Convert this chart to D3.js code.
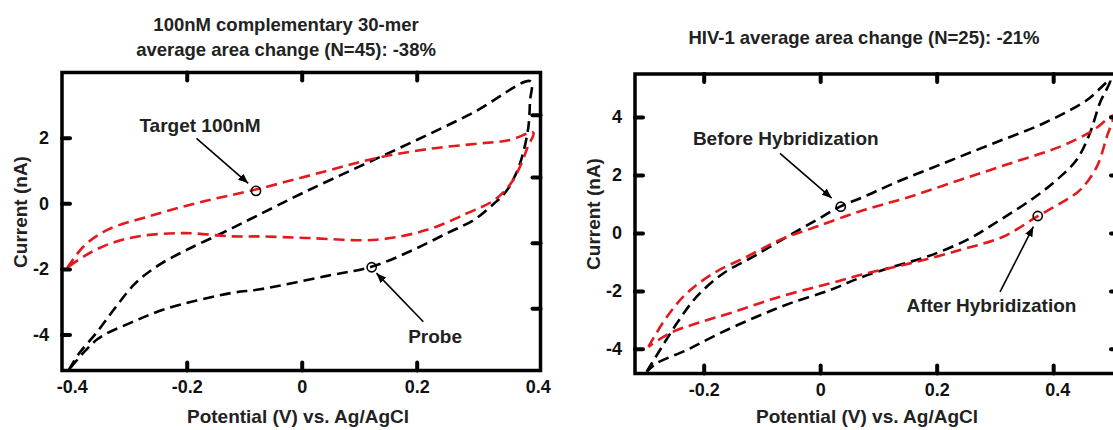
<!DOCTYPE html>
<html>
<head>
<meta charset="utf-8">
<script src="https://cdn.jsdelivr.net/npm/d3@7"></script>
<style>
  html, body { margin: 0; padding: 0; background: #fff; }
  svg { display: block; font-family: "Liberation Sans", Arial, sans-serif; font-weight: bold; }
</style>
</head>
<body>
<svg id="chart" width="1113" height="430"></svg>
<script>
// ---------------- DATA ----------------
// Left panel: 100nM complementary 30-mer
const probeV = [-0.405, -0.386, -0.357, -0.325, -0.290, -0.250, -0.200, -0.140, -0.080, 0.000, 0.100, 0.200, 0.300, 0.398,
                0.397, 0.394, 0.383, 0.370, 0.355, 0.335, 0.300, 0.253, 0.194, 0.124, 0.042, -0.075, -0.121, -0.238, -0.297, -0.355, -0.405];
const probeI = [-5.08, -4.55, -3.95, -3.20, -2.45, -1.90, -1.42, -0.92, -0.40, 0.30, 1.12, 1.93, 2.78, 3.72,
                3.10, 2.30, 1.40, 0.80, 0.35, 0.00, -0.50, -0.91, -1.42, -1.92, -2.22, -2.63, -2.73, -3.23, -3.64, -4.14, -5.08];
const targetV = [-0.408, -0.379, -0.338, -0.268, -0.180, -0.080, 0.042, 0.130, 0.218, 0.306, 0.360, 0.403,
                 0.393, 0.382, 0.364, 0.335, 0.288, 0.218, 0.130, 0.013, -0.075, -0.121, -0.203, -0.285, -0.338, -0.379, -0.408];
const targetI = [-1.97, -1.31, -0.81, -0.41, 0.02, 0.42, 0.98, 1.38, 1.65, 1.82, 1.92, 2.15,
                 1.72, 1.21, 0.61, 0.10, -0.30, -0.81, -1.11, -1.06, -1.01, -1.01, -0.91, -1.01, -1.26, -1.62, -1.97];

// Right panel: HIV-1
const beforeV = [-0.298, -0.275, -0.246, -0.212, -0.166, -0.115, -0.057, -0.006, 0.034, 0.075, 0.126, 0.211, 0.297, 0.383, 0.458, 0.498,
                 0.480, 0.463, 0.440, 0.406, 0.366, 0.309, 0.252, 0.183, 0.126, 0.068, 0.017, -0.052, -0.109, -0.172, -0.229, -0.281, -0.298];
const beforeI = [-4.79, -4.04, -3.12, -2.20, -1.39, -0.82, -0.13, 0.45, 0.91, 1.25, 1.71, 2.40, 3.09, 3.78, 4.59, 5.28,
                 4.48, 3.44, 2.52, 1.83, 1.20, 0.45, -0.24, -0.82, -1.16, -1.55, -1.97, -2.43, -2.89, -3.46, -4.04, -4.50, -4.79];
const afterV = [-0.295, -0.263, -0.229, -0.183, -0.126, -0.069, -0.006, 0.075, 0.154, 0.240, 0.326, 0.412, 0.469, 0.503,
                0.492, 0.475, 0.446, 0.412, 0.372, 0.314, 0.240, 0.154, 0.075, 0.017, -0.069, -0.155, -0.212, -0.258, -0.295];
const afterI = [-3.93, -2.89, -2.08, -1.39, -0.82, -0.24, 0.22, 0.79, 1.25, 1.83, 2.40, 2.98, 3.55, 4.05,
                3.32, 2.29, 1.48, 1.02, 0.56, -0.13, -0.59, -1.05, -1.42, -1.74, -2.20, -2.77, -3.12, -3.46, -3.93];

// Tick values
const leftXTicks = [-0.4, -0.2, 0, 0.2, 0.4];
const leftXTickMarks = [-0.2, 0, 0.2];
const leftYTicks = [2, 0, -2, -4];
const leftYRightTicks = [2.7, 0.8, -1.2, -3.2];
const rightXTicks = [-0.2, 0, 0.2, 0.4];
const rightYTicks = [4, 2, 0, -2, -4];

// Titles / labels
const leftTitle = ["100nM complementary 30-mer", "average area change (N=45): -38%"];
const rightTitle = "HIV-1 average area change (N=25): -21%";
const xLabel = "Potential (V) vs. Ag/AgCl";
const yLabel = "Current (nA)";

// Annotations (data units): text position, arrow start, arrow end, marker circle
const leftNotes = [
  {text: "Target 100nM", tx: -0.177, ti: 2.39, ax: -0.183, ai: 1.98, bx: -0.093, bi: 0.61, cx: -0.0795, ci: 0.38},
  {text: "Probe", tx: 0.232, ti: -4.07, ax: 0.2115, ai: -3.61, bx: 0.130, bi: -2.13, cx: 0.1217, ci: -1.95}
];
const rightNotes = [
  {text: "Before Hybridization", tx: -0.059, ti: 3.27, ax: -0.069, ai: 2.75, bx: 0.0198, bi: 1.20, cx: 0.0353, ci: 0.906},
  {text: "After Hybridization", tx: 0.294, ti: -2.49, ax: 0.3088, ai: -2.03, bx: 0.366, bi: 0.216, cx: 0.3735, ci: 0.585}
];

// ---------------- DRAW ----------------
const svg = d3.select("#chart");
const RED = "#e3191e";
const fmt = d => String(d);

const defs = svg.append("defs");
defs.append("marker")
  .attr("id", "arrow")
  .attr("viewBox", "0 0 10 8")
  .attr("refX", 10).attr("refY", 4)
  .attr("markerWidth", 10).attr("markerHeight", 8)
  .attr("markerUnits", "userSpaceOnUse")
  .attr("orient", "auto")
  .append("path").attr("d", "M0,0 L10,4 L0,8 Z").attr("fill", "#000");

function zip(a, b) { return a.map((v, k) => [v, b[k]]); }

function panel(opt) {
  const x = opt.x, y = opt.y;
  const g = svg.append("g");
  const [x0, x1] = x.range();
  const [y0, y1] = y.range();

  const line = d3.line().x(d => x(d[0])).y(d => y(d[1])).curve(d3.curveCatmullRom.alpha(0.5));

  opt.series.forEach(s => {
    g.append("path")
      .attr("d", line(zip(s.v, s.i)))
      .attr("fill", "none")
      .attr("stroke", s.color)
      .attr("stroke-width", 2.6)
      .attr("stroke-dasharray", "11,6");
  });

  const tickStyle = sel => {
    sel.select(".domain").remove();
    sel.selectAll(".tick line").attr("stroke", "#000").attr("stroke-width", 4).attr("stroke-linecap", "round");
    sel.selectAll(".tick text").attr("fill", "#111").attr("font-size", 18).attr("font-family", "Liberation Sans, Arial, sans-serif").attr("font-weight", "bold");
  };
  g.append("g").attr("transform", `translate(0,${y0})`)
    .call(d3.axisBottom(x).tickValues(opt.xTicks).tickSizeInner(-8).tickSizeOuter(0).tickPadding(10).tickFormat(fmt))
    .call(tickStyle)
    .call(sel => sel.selectAll(".tick line").filter(d => !opt.xTickMarks.includes(d)).remove())
    .call(sel => sel.selectAll(".tick text").filter(d => d === opt.xLabelShift[0]).attr("dx", opt.xLabelShift[1]));
  g.append("g").attr("transform", `translate(0,${y1})`)
    .call(d3.axisTop(x).tickValues(opt.xTickMarks).tickSizeInner(-8).tickSizeOuter(0).tickFormat(""))
    .call(tickStyle);
  g.append("g").attr("transform", `translate(${x0},0)`)
    .call(d3.axisLeft(y).tickValues(opt.yTicks).tickSizeInner(-8).tickSizeOuter(0).tickPadding(13).tickFormat(fmt))
    .call(tickStyle);
  g.append("g").attr("transform", `translate(${x1},0)`)
    .call(d3.axisRight(y).tickValues(opt.yRightTicks).tickSizeInner(-8).tickSizeOuter(0).tickFormat(""))
    .call(tickStyle);

  g.append("rect")
    .attr("x", x0).attr("y", y1)
    .attr("width", x1 - x0).attr("height", y0 - y1)
    .attr("fill", "none").attr("stroke", "#000").attr("stroke-width", 3.5);

  opt.notes.forEach(n => {
    g.append("text").attr("x", x(n.tx)).attr("y", y(n.ti)).attr("dy", "0.35em")
      .attr("text-anchor", "middle").attr("font-size", 19).attr("fill", "#222").text(n.text);
    g.append("line")
      .attr("x1", x(n.ax)).attr("y1", y(n.ai)).attr("x2", x(n.bx)).attr("y2", y(n.bi))
      .attr("stroke", "#000").attr("stroke-width", 1.6).attr("marker-end", "url(#arrow)");
    g.append("circle").attr("cx", x(n.cx)).attr("cy", y(n.ci)).attr("r", 4.6)
      .attr("fill", "none").attr("stroke", "#000").attr("stroke-width", 1.6);
  });

  g.append("text").attr("x", opt.xLabelX).attr("y", 423).attr("text-anchor", "middle")
    .attr("font-size", 19).attr("fill", "#222").text(xLabel);
  g.append("text").attr("transform", `translate(${opt.yLabelX},${opt.yLabelY}) rotate(-90)`)
    .attr("text-anchor", "middle").attr("font-size", 19).attr("fill", "#222").text(yLabel);

  opt.title.forEach((t, k) => {
    g.append("text").attr("x", opt.titleX).attr("y", opt.titleY[k]).attr("text-anchor", "middle")
      .attr("font-size", 18.5).attr("fill", "#222").text(t);
  });
}

const xL = d3.scaleLinear().domain([-0.4169, 0.4153]).range([62, 540.5]);
const yL = d3.scaleLinear().domain([-5.098, 3.988]).range([370.5, 72.5]);
const xR = d3.scaleLinear().domain([-0.3179, 0.5130]).range([635, 1119]);
const yR = d3.scaleLinear().domain([-4.851, 5.487]).range([373.5, 74]);

panel({
  x: xL, y: yL,
  series: [
    {v: probeV, i: probeI, color: "#000"},
    {v: targetV, i: targetI, color: RED}
  ],
  xTicks: leftXTicks, xTickMarks: leftXTickMarks, xLabelShift: [0.4, 6],
  yTicks: leftYTicks, yRightTicks: leftYRightTicks,
  notes: leftNotes,
  xLabelX: 298, yLabelX: 27, yLabelY: 212,
  title: leftTitle, titleX: 286, titleY: [30.5, 55.5]
});

panel({
  x: xR, y: yR,
  series: [
    {v: beforeV, i: beforeI, color: "#000"},
    {v: afterV, i: afterI, color: RED}
  ],
  xTicks: rightXTicks, xTickMarks: rightXTicks, xLabelShift: [0.4, 4],
  yTicks: rightYTicks, yRightTicks: rightYTicks,
  notes: rightNotes,
  xLabelX: 867, yLabelX: 600, yLabelY: 214,
  title: [rightTitle], titleX: 864, titleY: [44]
});
</script>
</body>
</html>
